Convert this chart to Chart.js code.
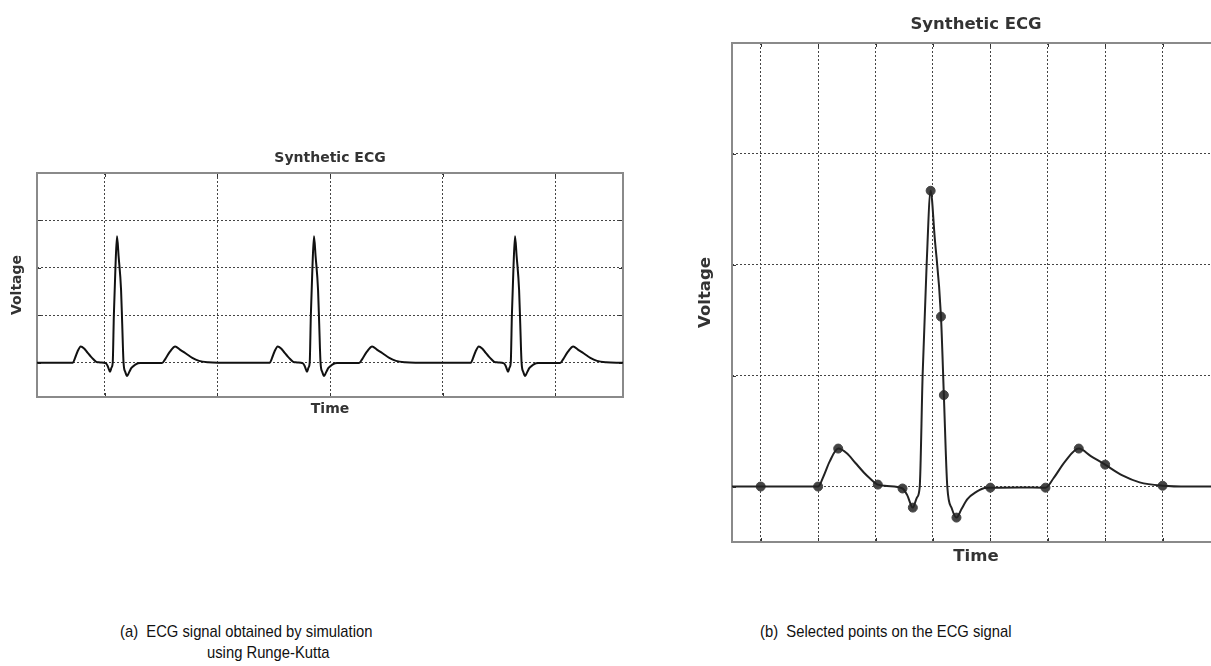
<!DOCTYPE html>
<html>
<head>
<meta charset="utf-8">
<title>Synthetic ECG</title>
<script src="https://cdn.jsdelivr.net/npm/chart.js@4/dist/chart.umd.min.js"></script>
<style>
  html, body { margin: 0; padding: 0; background: #fff; overflow: hidden; }
  body { width: 1211px; height: 666px; position: relative; }
  canvas { position: absolute; }
  #simChart { left: 0; top: 140px; }
  #zoomChart { left: 690px; top: 0; }
  .caption {
    position: absolute;
    font-family: "Liberation Sans", Arial, sans-serif;
    font-size: 17px;
    color: #111;
    white-space: pre;
    transform: scaleX(0.87);
    transform-origin: left top;
  }
</style>
</head>
<body>
<canvas id="simChart" width="640" height="288"></canvas>
<canvas id="zoomChart" width="540" height="586"></canvas>
<div class="caption" style="left:120px; top:622px;">(a)  ECG signal obtained by simulation</div>
<div class="caption" style="left:207px; top:643px;">using Runge-Kutta</div>
<div class="caption" style="left:760px; top:622px;">(b)  Selected points on the ECG signal</div>

<script>
// ---- one heartbeat: time from the R peak (s) and voltage (mV) ----
const beatOffsets = [
  -0.35, -0.196, -0.186, -0.176, -0.161, -0.146, -0.131, -0.116, -0.106, -0.092,
  -0.076, -0.049, -0.041, -0.031, -0.024, -0.019, -0.014, -0.007, 0, 0.007,
  0.018, 0.023, 0.029, 0.037, 0.045, 0.054, 0.064, 0.079, 0.094, 0.104,
  0.154, 0.2, 0.214, 0.234, 0.258, 0.279, 0.304, 0.334, 0.364, 0.404, 0.45
];
const beatVoltages = [
  0, 0, 0.04, 0.09, 0.137, 0.12, 0.085, 0.05, 0.03, 0.007,
  0.002, -0.007, -0.03, -0.076, -0.04, 0, 0.4, 0.8, 1.067, 0.9,
  0.613, 0.33, 0, -0.08, -0.112, -0.08, -0.045, -0.02, -0.005, -0.004,
  -0.003, -0.004, 0.03, 0.09, 0.137, 0.11, 0.079, 0.04, 0.015, 0.003, 0
];

// R peak times of the simulated record (s)
const simPeaks = [0.355, 1.229, 2.121];
const simRange = [0, 2.6];
const simTimeTicks = [0.3, 0.8, 1.3, 1.8, 2.3];
const simVoltRange = [-0.29, 1.6];

// single beat shown close up
const zoomPeak = 0.296;
const zoomRange = [-0.05, 0.8];
const zoomTimeTicks = [0, 0.1, 0.2, 0.3, 0.4, 0.5, 0.6, 0.7];
const zoomVoltRange = [-0.2, 1.6];
const voltTicks = [0, 0.4, 0.8, 1.2];

// selected samples on the close-up beat
const pickTimes = [0, 0.1, 0.135, 0.204, 0.247, 0.265, 0.296, 0.314, 0.319, 0.341, 0.4, 0.496, 0.554, 0.6, 0.7];
const pickVoltages = [0, 0, 0.137, 0.007, -0.007, -0.076, 1.067, 0.613, 0.33, -0.112, -0.004, -0.004, 0.137, 0.079, 0.003];

function beatAt(peak) {
  return beatOffsets.map((dt, i) => ({ x: peak + dt, y: beatVoltages[i] }));
}

const simData = [{ x: simRange[0], y: 0 }]
  .concat(...simPeaks.map(beatAt))
  .concat([{ x: simRange[1], y: 0 }]);
const zoomData = beatAt(zoomPeak).concat([{ x: zoomRange[1], y: 0 }]);
const pickData = pickTimes.map((t, i) => ({ x: t, y: pickVoltages[i] }));

// box round the plot area plus short inward tick marks
const frame = {
  id: "frame",
  beforeDatasetsDraw(chart) {
    const { ctx, chartArea: a, scales } = chart;
    const tick = 4;
    ctx.save();
    ctx.strokeStyle = "#333";
    ctx.lineWidth = 1;
    ctx.setLineDash([]);
    ctx.beginPath();
    for (const t of scales.x.ticks) {
      const px = Math.round(scales.x.getPixelForValue(t.value)) + 0.5;
      ctx.moveTo(px, a.top); ctx.lineTo(px, a.top + tick);
      ctx.moveTo(px, a.bottom); ctx.lineTo(px, a.bottom - tick);
    }
    for (const t of scales.y.ticks) {
      const py = Math.round(scales.y.getPixelForValue(t.value)) + 0.5;
      ctx.moveTo(a.left, py); ctx.lineTo(a.left + tick, py);
      ctx.moveTo(a.right, py); ctx.lineTo(a.right - tick, py);
    }
    ctx.stroke();
    ctx.strokeStyle = "#8a8a8a";
    ctx.lineWidth = 2;
    ctx.strokeRect(a.left, a.top, a.right - a.left, a.bottom - a.top);
    ctx.restore();
  },
};

function axis(range, ticks, title, size, pad) {
  return {
    type: "linear",
    min: range[0],
    max: range[1],
    afterBuildTicks: (scale) => { scale.ticks = ticks.map((v) => ({ value: v })); },
    ticks: { display: false },
    grid: { color: "#444", lineWidth: 1, drawTicks: false },
    border: { display: false, dash: [2, 2] },
    title: {
      display: true,
      text: title,
      color: "#333",
      font: { family: "DejaVu Sans", size, weight: "bold" },
      padding: pad,
    },
  };
}

function ecgChart(canvas, cfg) {
  return new Chart(canvas, {
    type: "line",
    data: { datasets: cfg.datasets },
    options: {
      responsive: false,
      animation: false,
      events: [],
      layout: { padding: cfg.padding },
      plugins: {
        legend: { display: false },
        tooltip: { enabled: false },
        title: {
          display: true,
          fullSize: false, // centre over the plot area
          text: "Synthetic ECG",
          color: "#333",
          font: { family: "DejaVu Sans", size: cfg.size, weight: "bold" },
          padding: cfg.titlePad,
        },
      },
      scales: {
        x: axis(cfg.xRange, cfg.xTicks, "Time", cfg.size, cfg.xPad),
        y: axis(cfg.yRange, voltTicks, "Voltage", cfg.size, cfg.yPad),
      },
    },
    plugins: [frame],
  });
}

ecgChart(document.getElementById("simChart"), {
  size: 14,
  padding: { top: 3, bottom: 2.6, left: 3, right: 17 },
  titlePad: { top: 6.6, bottom: 6.6 },
  xPad: { top: 4, bottom: 7.6 },
  yPad: { top: 5.6, bottom: 11.6 },
  xRange: simRange,
  xTicks: simTimeTicks,
  yRange: simVoltRange,
  datasets: [{
    data: simData,
    borderColor: "#111",
    borderWidth: 2,
    pointRadius: 0,
    cubicInterpolationMode: "monotone",
  }],
});

ecgChart(document.getElementById("zoomChart"), {
  size: 16.5,
  padding: { top: 6, bottom: 3.1, left: 2, right: 10 },
  titlePad: { top: 9.1, bottom: 8.1 },
  xPad: { top: 5, bottom: 16.1 },
  yPad: { top: 4.1, bottom: 16.1 },
  xRange: zoomRange,
  xTicks: zoomTimeTicks,
  yRange: zoomVoltRange,
  datasets: [
    {
      data: zoomData,
      borderColor: "#222",
      borderWidth: 2,
      pointRadius: 0,
      cubicInterpolationMode: "monotone",
    },
    {
      data: pickData,
      showLine: false,
      pointRadius: 4.5,
      pointBackgroundColor: "#444",
      pointBorderColor: "#444",
    },
  ],
});
</script>
</body>
</html>
